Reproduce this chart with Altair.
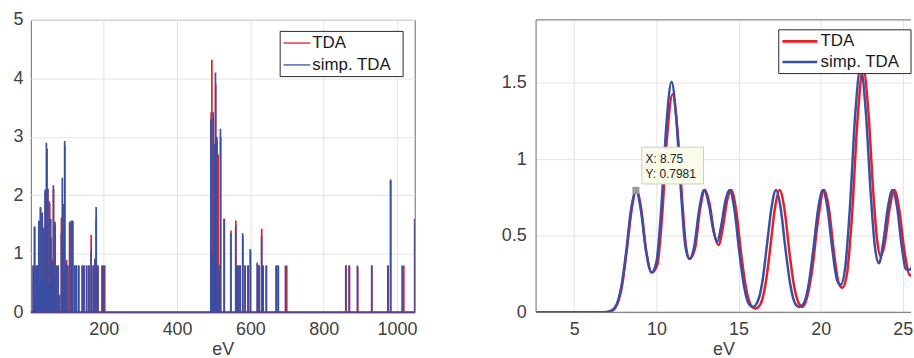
import altair as alt
import pandas as pd

# ---------------- data ----------------
series_names = ["TDA", "simp. TDA"]
series_colors = ["#e41f26", "#3a4ea3"]

# Left panel: stick spectrum over the full range (eV, intensity)
tda_stick_ev = [7.8, 11.5, 15.9, 19.5, 23.2, 27.7, 32.3, 35.9, 40.4, 45.3, 47.6, 52.2, 56.2, 59.4, 63.0,
                67.5, 71.2, 75.7, 84.5, 89.6, 93.8, 98.7, 101.9, 107.3, 111.9, 115.5, 120.9, 125.4, 131.8,
                141.7, 146.2, 153.5, 159.8, 165.6, 171.6, 176.1, 179.5, 184.2, 196.0, 202.7,
                493.1, 494.9, 499.0, 502.0, 505.5, 509.0, 512.1, 513.0, 515.5, 519.0, 529.0, 547.0, 560.5,
                564.5, 568.0, 572.5, 579.5, 586.0, 594.0, 600.5, 619.5, 624.0, 631.0, 635.0, 644.0, 671.0,
                676.5, 699.3,
                861.0, 870.5, 893.0, 931.5, 976.0, 983.0, 1018.7, 1048.5]
tda_stick_int = [0.8, 1.45, 0.8, 0.8, 1.55, 1.78, 1.7, 1.4, 2.05, 2.8, 2.1, 1.85, 1.28, 0.9, 2.1,
                 1.5, 0.8, 0.8, 1.62, 1.85, 2.85, 0.9, 0.8, 1.5, 1.55, 1.55, 0.8, 0.8, 0.8,
                 0.8, 0.8, 0.8, 0.8, 1.32, 0.8, 0.9, 1.62, 0.8, 0.8, 0.8,
                 3.42, 4.32, 3.3, 2.6, 3.9, 2.95, 2.7, 0.45, 0.8, 3.0, 1.6, 1.4, 1.57,
                 0.8, 0.8, 0.8, 1.3, 0.8, 0.8, 1.05, 0.82, 0.8, 1.43, 0.8, 0.8, 0.8,
                 0.8, 0.8,
                 0.8, 0.8, 0.78, 0.8, 0.8, 2.25, 0.8, 1.6]
simp_stick_ev = [7.3, 9.2, 11.0, 13.2, 15.5, 17.4, 19.0, 22.7, 25.0, 27.2, 29.5, 31.8, 33.5, 35.4, 37.8,
                 39.9, 43.5, 45.2, 47.1, 49.3, 51.7, 53.5, 55.3, 58.9, 60.5, 62.5, 64.7, 67.0, 70.7, 75.2,
                 79.5, 84.2, 86.9, 89.8, 93.3, 96.9, 101.4, 106.8, 111.4, 115.0, 120.4, 124.9, 131.3,
                 141.2, 145.7, 153.0, 159.3, 165.6, 171.1, 175.6, 179.2, 183.7, 195.5, 200.0,
                 492.2, 495.5, 498.5, 501.2, 504.8, 506.5, 508.5, 510.5, 514.8, 518.4, 528.4, 546.5, 560.0,
                 563.7, 567.3, 571.8, 579.0, 585.4, 593.5, 599.8, 618.8, 623.3, 630.6, 634.2, 643.2, 670.4,
                 675.8, 695.7,
                 860.3, 869.4, 892.0, 931.0, 975.2, 982.5, 1014.1, 1048.5]
simp_stick_int = [0.8, 0.35, 1.47, 0.3, 0.8, 0.25, 0.8, 1.57, 0.45, 1.8, 0.5, 1.7, 0.6, 1.45, 0.5,
                  2.1, 2.9, 0.7, 2.12, 0.5, 1.9, 0.8, 1.6, 0.85, 0.4, 2.17, 0.6, 1.55, 0.8, 0.8,
                  0.3, 1.35, 2.3, 1.2, 2.93, 0.85, 0.8, 1.55, 1.57, 1.57, 0.8, 0.8, 0.8,
                  0.8, 0.8, 0.8, 0.8, 1.05, 0.8, 0.92, 1.8, 0.8, 0.8, 0.8,
                  3.3, 1.0, 3.42, 2.88, 4.1, 0.8, 3.0, 0.45, 0.8, 3.14, 1.6, 1.35, 1.47,
                  0.8, 0.8, 0.8, 1.35, 0.8, 0.8, 1.08, 0.85, 0.8, 1.3, 0.8, 0.8, 0.8,
                  0.8, 0.8,
                  0.8, 0.8, 0.8, 0.8, 0.8, 2.27, 0.8, 1.6]

# Right panel: broadened spectrum, low-energy part
tda_ev = [2.6, 6.9, 7.3, 7.6, 7.9, 8.2, 8.5, 8.78, 9.08, 9.38, 9.72, 10.05, 10.35, 10.65, 10.98, 11.28,
          11.55, 11.8, 12.02, 12.35, 12.65, 12.95, 13.25, 13.5, 13.78, 14.05, 14.3, 14.55, 14.85, 15.15,
          15.45, 15.75, 16.03, 16.35, 16.65, 16.95, 17.2, 17.5, 17.8, 18.1, 18.4, 18.65, 18.9, 19.2,
          19.5, 19.8, 20.21, 20.5, 20.8, 21.1, 21.32, 21.6, 21.9, 22.25, 22.59, 22.9, 23.2, 23.45,
          23.65, 23.9, 24.2, 24.49, 24.8, 25.1, 25.45, 25.7]
tda_int = [0, 0, 0.01, 0.05, 0.17, 0.41, 0.68, 0.798, 0.67, 0.40, 0.26, 0.31, 0.64, 1.15, 1.426, 1.19,
           0.76, 0.43, 0.35, 0.42, 0.67, 0.80, 0.70, 0.525, 0.44, 0.56, 0.73, 0.80, 0.67, 0.39,
           0.16, 0.047, 0.025, 0.057, 0.19, 0.44, 0.67, 0.80, 0.67, 0.39, 0.16, 0.063, 0.035, 0.11,
           0.29, 0.57, 0.80, 0.68, 0.40, 0.19, 0.16, 0.25, 0.62, 1.27, 1.60, 1.32, 0.79, 0.46,
           0.365, 0.45, 0.68, 0.80, 0.66, 0.40, 0.24, 0.30]
simp_ev = [2.6, 6.8, 7.2, 7.55, 7.85, 8.15, 8.45, 8.75, 9.05, 9.35, 9.7, 10.0, 10.3, 10.6, 10.92, 11.2,
           11.5, 11.75, 12.0, 12.3, 12.6, 12.9, 13.2, 13.45, 13.7, 13.95, 14.2, 14.45, 14.75, 15.05,
           15.35, 15.6, 15.87, 16.15, 16.45, 16.75, 17.0, 17.28, 17.55, 17.85, 18.15, 18.45, 18.7,
           18.95, 19.25, 19.55, 19.85, 20.13, 20.4, 20.7, 21.0, 21.22, 21.5, 21.8, 22.1, 22.43, 22.75,
           23.05, 23.3, 23.55, 23.8, 24.1, 24.37, 24.65, 24.95, 25.2, 25.45, 25.7]
simp_int = [0, 0, 0.007, 0.045, 0.16, 0.39, 0.67, 0.798, 0.67, 0.41, 0.26, 0.33, 0.69, 1.22, 1.508, 1.28,
            0.78, 0.44, 0.35, 0.43, 0.67, 0.80, 0.70, 0.545, 0.46, 0.57, 0.73, 0.80, 0.67, 0.39,
            0.16, 0.06, 0.035, 0.067, 0.20, 0.46, 0.68, 0.80, 0.69, 0.42, 0.18, 0.056, 0.035,
            0.054, 0.17, 0.41, 0.68, 0.80, 0.69, 0.42, 0.21, 0.18, 0.30, 0.72, 1.29, 1.60, 1.31,
            0.77, 0.43, 0.32, 0.45, 0.69, 0.80, 0.69, 0.42, 0.28, 0.28, 0.43]

# Data tip
tip_x = 8.75
tip_y = 0.7981

# Axes
left_x_domain = [1, 1048.5]
left_y_domain = [0, 5]
left_x_ticks = [200, 400, 600, 800, 1000]
left_y_ticks = [0, 1, 2, 3, 4, 5]
right_x_domain = [2.67, 25.5]
right_y_domain = [0, 1.913]
right_x_ticks = [5, 10, 15, 20, 25]
right_y_ticks = [0, 0.5, 1, 1.5]

# ---------------- styling ----------------
FONT = "Liberation Sans"
TXT = "#404040"
FRAME = "#6a6a6a"
GRID = "#e4e4e4"
LW, LH = 386, 294
RW, RH = 377, 294
red, blue = series_colors

sticks = pd.concat([
    pd.DataFrame({"ev": tda_stick_ev, "inten": tda_stick_int, "series": series_names[0]}),
    pd.DataFrame({"ev": simp_stick_ev, "inten": simp_stick_int, "series": series_names[1]}),
], ignore_index=True)
sticks["base"] = 0.0

curves = pd.concat([
    pd.DataFrame({"ev": tda_ev, "inten": tda_int, "series": series_names[0]}),
    pd.DataFrame({"ev": simp_ev, "inten": simp_int, "series": series_names[1]}),
], ignore_index=True)

one = pd.DataFrame({"k": [0]})


def x_axis(ticks, fmt):
    return alt.Axis(values=ticks, format=fmt, title="eV", grid=True, ticks=False, domain=False,
                    labelPadding=8, titlePadding=2)


def y_axis(ticks, pad):
    return alt.Axis(values=ticks, format="~g", title=None, grid=True, ticks=False, domain=False,
                    labelPadding=pad)


# ---------- left panel ----------
xl = alt.X("ev:Q", scale=alt.Scale(domain=left_x_domain, nice=False, zero=False),
           axis=x_axis(left_x_ticks, "d"))
yl = alt.Y("inten:Q", scale=alt.Scale(domain=left_y_domain, nice=False), axis=y_axis(left_y_ticks, 8))

base_l = alt.Chart(sticks)
red_sticks = base_l.transform_filter(alt.datum.series == series_names[0]).mark_rule(
    color=red, strokeWidth=1.7, clip=True).encode(x=xl, y=yl, y2="base:Q")
blue_sticks = base_l.transform_filter(alt.datum.series == series_names[1]).mark_rule(
    color=blue, strokeWidth=1.7, clip=True).encode(x=xl, y=yl, y2="base:Q")
baseline_df = pd.DataFrame({"ev": [left_x_domain[0]], "ev2": [left_x_domain[1]], "inten": [0.0]})
red_base = alt.Chart(baseline_df).mark_rule(color=red, strokeWidth=2).encode(x=xl, x2="ev2:Q", y=yl)
blue_base = alt.Chart(baseline_df).mark_rule(color=blue, strokeWidth=1.4, opacity=0.75).encode(
    x=xl, x2="ev2:Q", y=yl)


def legend_layers(box, line_x, text_x, rows_y, sw, fs):
    layers = [alt.Chart(one).mark_rect(fill="white", stroke="#2a2a2a", strokeWidth=1).encode(
        x=alt.value(box[0]), x2=alt.value(box[1]), y=alt.value(box[2]), y2=alt.value(box[3]))]
    for name, color, ry in zip(series_names, series_colors, rows_y):
        layers.append(alt.Chart(one).mark_rule(color=color, strokeWidth=sw).encode(
            x=alt.value(line_x[0]), x2=alt.value(line_x[1]), y=alt.value(ry)))
        layers.append(alt.Chart(one).mark_text(text=name, align="left", baseline="middle", font=FONT,
                                               fontSize=fs, color="#1a1a1a").encode(
            x=alt.value(text_x), y=alt.value(ry)))
    return layers


left = alt.layer(
    red_base, red_sticks, blue_sticks, blue_base,
    *legend_layers((250.7, 374.3, 11.6, 57.0), (254, 281), 283, (23.3, 45.3), 1.3, 17),
).properties(width=LW, height=LH, view=alt.ViewBackground(stroke=FRAME, strokeWidth=1))

# ---------- right panel ----------
xr = alt.X("ev:Q", scale=alt.Scale(domain=right_x_domain, nice=False, zero=False),
           axis=x_axis(right_x_ticks, "~g"))
yr = alt.Y("inten:Q", scale=alt.Scale(domain=right_y_domain, nice=False), axis=y_axis(right_y_ticks, 10))

base_r = alt.Chart(curves)
red_line = base_r.transform_filter(alt.datum.series == series_names[0]).mark_line(
    color=red, strokeWidth=2.5, interpolate="monotone", clip=True).encode(x=xr, y=yr)
blue_line = base_r.transform_filter(alt.datum.series == series_names[1]).mark_line(
    color=blue, strokeWidth=2.5, interpolate="monotone", clip=True).encode(x=xr, y=yr)

frame_r = [
    alt.Chart(one).mark_rule(color=FRAME, strokeWidth=1).encode(x=alt.value(0), x2=alt.value(RW), y=alt.value(0)),
    alt.Chart(one).mark_rule(color=FRAME, strokeWidth=1).encode(x=alt.value(0), x2=alt.value(RW), y=alt.value(RH)),
    alt.Chart(one).mark_rule(color=FRAME, strokeWidth=1).encode(x=alt.value(0), y=alt.value(0), y2=alt.value(RH)),
]

tip_df = pd.DataFrame({"ev": [tip_x], "inten": [tip_y]})
tip_marker = alt.Chart(tip_df).mark_square(size=50, color="#9a9a9a", opacity=1).encode(x=xr, y=yr)
tip_box = alt.Chart(one).mark_rect(fill="#fbfbea", stroke="#cdcdcd", strokeWidth=1).encode(
    x=alt.value(106.4), x2=alt.value(168.4), y=alt.value(128), y2=alt.value(165))
tip_t1 = alt.Chart(one).mark_text(text=f"X: {tip_x}", align="left", baseline="middle", font=FONT,
                                  fontSize=12, color="#222").encode(x=alt.value(110), y=alt.value(139.5))
tip_t2 = alt.Chart(one).mark_text(text=f"Y: {tip_y}", align="left", baseline="middle", font=FONT,
                                  fontSize=12, color="#222").encode(x=alt.value(110), y=alt.value(154.5))

right = alt.layer(
    red_line, blue_line, *frame_r, tip_marker, tip_box, tip_t1, tip_t2,
    *legend_layers((244, 377, 10, 54), (247.7, 282.7), 286, (21.6, 42.3), 2.6, 17),
).properties(width=RW, height=RH, view=alt.ViewBackground(stroke="transparent"))

chart = alt.hconcat(left, right, spacing=83).properties(
    padding={"left": 12, "top": 9, "right": 0, "bottom": 0}
).configure_axis(
    labelFont=FONT, labelFontSize=18, labelColor=TXT,
    titleFont=FONT, titleFontSize=18, titleFontWeight="normal", titleColor=TXT,
    gridColor=GRID, gridWidth=1,
).configure_view(strokeWidth=1)

chart.save("out.html", embed_options={"renderer": "svg", "actions": False})
